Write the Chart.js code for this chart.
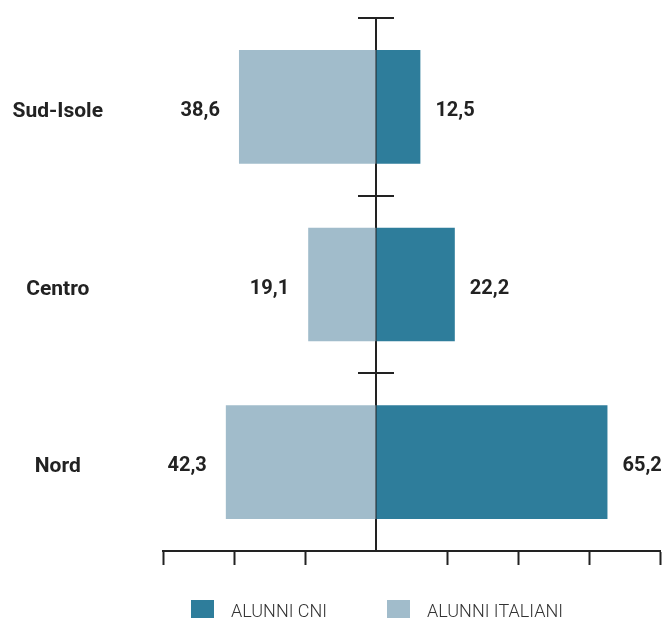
<!DOCTYPE html>
<html>
<head>
<meta charset="utf-8">
<script src="https://cdn.jsdelivr.net/npm/chart.js@4"></script>
<style>
  html, body { margin: 0; padding: 0; background: #fff; }
  #wrap { width: 665px; height: 621px; }
</style>
</head>
<body>
<div id="wrap"><canvas id="myChart"></canvas></div>
<script>
'use strict';

let categories = ['Sud-Isole', 'Centro', 'Nord'];
let cniValues = [12.5, 22.2, 65.2];
let italianiValues = [38.6, 19.1, 42.3];
let xTicks = [-60, -40, -20, 0, 20, 40, 60, 80];

let darkBlue = '#2e7d9b';
let lightBlue = '#a1bccb';
let axisColor = '#222222';

function fmt(v){
    return v.toFixed(1).replace('.', ',');
}

// crosses on the middle axis, value labels and the legend
let extras = {
    id: 'extras',
    afterDraw(chart){
        let ctx = chart.ctx;
        let xs = chart.scales.x;
        let ys = chart.scales.y;
        let x0 = xs.getPixelForValue(0);
        let step = ys.getPixelForValue(1) - ys.getPixelForValue(0);

        ctx.save();
        ctx.strokeStyle = axisColor;
        ctx.lineWidth = 2;
        for(let i = 0; i < categories.length; i++){
            let yb = Math.round(ys.getPixelForValue(i) - step / 2);
            ctx.beginPath();
            ctx.moveTo(x0 - 18, yb);
            ctx.lineTo(x0 + 18, yb);
            ctx.stroke();
        }

        ctx.font = 'bold 20px Roboto';
        ctx.fillStyle = axisColor;
        ctx.textBaseline = 'middle';

        chart.getDatasetMeta(0).data.forEach(function(bar, i){
            ctx.textAlign = 'left';
            ctx.fillText(fmt(cniValues[i]), bar.x + 15, bar.y + 4);
        });
        chart.getDatasetMeta(1).data.forEach(function(bar, i){
            ctx.textAlign = 'right';
            ctx.fillText(fmt(italianiValues[i]), bar.x - 19, bar.y + 4);
        });

        // legend
        let legendX = [191, 387];
        ctx.font = '300 18px Roboto';
        ctx.textAlign = 'left';
        chart.data.datasets.forEach(function(ds, i){
            ctx.fillStyle = ds.backgroundColor;
            ctx.fillRect(legendX[i], 600, 23, 18);
            ctx.fillStyle = '#333333';
            ctx.fillText(ds.label, legendX[i] + 40, 612);
        });
        ctx.restore();
    }
};

let ctx = document.getElementById('myChart').getContext('2d');
let chart = new Chart(ctx, {
    type: 'bar',
    data: {
        labels: categories,
        datasets: [{
            label: 'ALUNNI CNI',
            backgroundColor: darkBlue,
            data: cniValues,
            yAxisID: 'y'
        }, {
            label: 'ALUNNI ITALIANI',
            backgroundColor: lightBlue,
            data: italianiValues.map(function(v){ return -v; }),
            yAxisID: 'y'
        }]
    },
    options: {
        indexAxis: 'y',
        responsive: true,
        maintainAspectRatio: false,
        animation: false,
        categoryPercentage: 0.8,
        barPercentage: 0.8,
        layout: {
            padding: { left: 12, right: 5, top: 18, bottom: 56 }
        },
        scales: {
            x: {
                type: 'linear',
                stacked: true,
                min: xTicks[0],
                max: xTicks[xTicks.length - 1],
                afterBuildTicks(scale){
                    scale.ticks = xTicks.map(function(v){ return { value: v }; });
                },
                ticks: { display: false },
                grid: {
                    drawOnChartArea: false,
                    tickLength: 14,
                    tickWidth: 2,
                    tickColor(c){ return c.tick && c.tick.value === 0 ? 'rgba(0,0,0,0)' : axisColor; }
                },
                border: { color: axisColor, width: 2 }
            },
            y: {
                type: 'category',
                stacked: true,
                position: { x: 0 },
                z: 1,
                ticks: { display: false },
                grid: { display: false, drawTicks: false },
                border: { color: axisColor, width: 2 }
            },
            yl: {
                type: 'category',
                position: 'left',
                afterFit(scale){
                    scale.paddingTop = 0;
                    scale.paddingBottom = 0;
                    scale.width = 151;
                },
                ticks: {
                    crossAlign: 'center',
                    padding: 60,
                    labelOffset: 5,
                    color: axisColor,
                    font: { family: 'Roboto', size: 21, weight: 'bold' }
                },
                grid: { display: false, drawTicks: false },
                border: { display: false }
            }
        },
        plugins: {
            legend: { display: false },
            tooltip: { enabled: false }
        }
    },
    plugins: [extras]
});
</script>
</body>
</html>
